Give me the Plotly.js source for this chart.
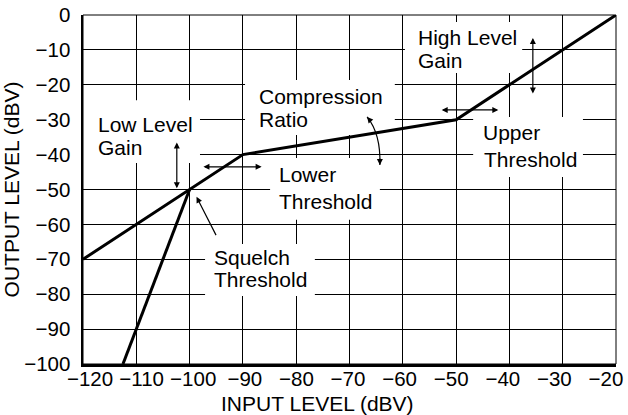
<!DOCTYPE html>
<html>
<head>
<meta charset="utf-8">
<script src="https://cdn.plot.ly/plotly-3.0.1.min.js"></script>
<style>html,body{margin:0;padding:0;background:#fff;}#chart{width:628px;height:415px;}</style>
</head>
<body>
<div id="chart"></div>
<script>
// ---- data ----
const inputKnee = [-120, -100, -90, -50, -20];
const outputKnee = [-70, -50, -40, -30, 0];
const inputSquelch = [-112.5, -100];
const outputSquelch = [-100, -50];
const xTickVals = [-120, -110, -100, -90, -80, -70, -60, -50, -40, -30, -20];
const yTickVals = [-100, -90, -80, -70, -60, -50, -40, -30, -20, -10, 0];
const labelLines = ['Low Level', 'Gain', 'Compression', 'Ratio', 'Lower', 'Threshold',
                    'Squelch', 'Threshold', 'High Level', 'Gain', 'Upper', 'Threshold'];
const xTitle = 'INPUT LEVEL (dBV)';
const yTitle = 'OUTPUT LEVEL (dBV)';

// ---- layout helpers ----
const FONT = 'Liberation Sans, Arial, Helvetica, sans-serif';
const labelPos = [
  [-117.4, -31.5], [-117.4, -38.1],
  [-87.2, -23.4], [-87.2, -29.8],
  [-83.4, -45.8], [-83.4, -53.4],
  [-95.6, -69.5], [-95.6, -75.9],
  [-57.3, -6.4], [-57.3, -12.9],
  [-45.1, -33.7], [-45.0, -41.5]
];
const boxes = [
  [-120, -98.05, -24.4, -42.4],
  [-89.6, -61.5, -18.6, -34.4],
  [-84.9, -64.3, -41.0, -58.7],
  [-97.1, -76.5, -65.6, -80.5],
  [-59.6, -37.6, -2.0, -16.6],
  [-46.8, -26.2, -29.2, -46.4]
];
// double arrows: [x, y, ax, ay]
const dblArrows = [
  [-102.4, -36.5, -102.4, -50.1],
  [-97.4, -43.5, -86.2, -43.5],
  [-52.7, -27.2, -41.8, -27.2],
  [-35.6, -6.6, -35.6, -22.9]
];

const shapes = boxes.map(b => ({
  type: 'rect', xref: 'x', yref: 'y', x0: b[0], x1: b[1], y0: b[2], y1: b[3],
  fillcolor: '#fff', line: {width: 0}, layer: 'between'
}));
shapes.push({
  type: 'path', xref: 'x', yref: 'y', layer: 'above',
  path: 'M -66.7 -29.2 Q -64.1 -34.1 -64.3 -43.0',
  line: {color: '#000', width: 1.2}
});
shapes.push({
  type: 'rect', xref: 'paper', yref: 'paper', x0: 0, x1: 1, y0: 0, y1: 1,
  line: {color: '#000', width: 1}, layer: 'above'
});

const annotations = labelLines.map((t, i) => ({
  text: t, x: labelPos[i][0], y: labelPos[i][1], xref: 'x', yref: 'y',
  xanchor: 'left', yanchor: 'middle', showarrow: false, borderpad: 0,
  font: {family: FONT, size: 21, color: '#000'}
}));
dblArrows.forEach(a => annotations.push({
  text: '', x: a[0], y: a[1], ax: a[2], ay: a[3], axref: 'x', ayref: 'y', xref: 'x', yref: 'y',
  showarrow: true, arrowside: 'end+start', arrowhead: 2, startarrowhead: 2,
  arrowsize: 1, startarrowsize: 1, arrowwidth: 1.2, arrowcolor: '#000', standoff: 0, startstandoff: 0
}));
// squelch pointer
annotations.push({
  text: '', x: -98.7, y: -52.1, ax: -94.9, ay: -63.5, axref: 'x', ayref: 'y', xref: 'x', yref: 'y',
  showarrow: true, arrowhead: 2, arrowsize: 1, arrowwidth: 1.2, arrowcolor: '#000', standoff: 0
});
// compression curved arrow heads
annotations.push({
  text: '', x: -66.7, y: -29.2, ax: 5, ay: 6, xref: 'x', yref: 'y',
  showarrow: true, arrowhead: 2, arrowsize: 1, arrowwidth: 1.2, arrowcolor: '#000', standoff: 0
});
annotations.push({
  text: '', x: -64.3, y: -43.0, ax: 0, ay: -8, xref: 'x', yref: 'y',
  showarrow: true, arrowhead: 2, arrowsize: 1, arrowwidth: 1.2, arrowcolor: '#000', standoff: 0
});
// x axis title (centred on the page as in the original)
annotations.push({
  text: xTitle, xref: 'paper', yref: 'paper', x: 0.44, y: -0.1146,
  xanchor: 'center', yanchor: 'middle', showarrow: false,
  font: {family: FONT, size: 21, color: '#000'}
});

const traces = [
  {x: inputKnee, y: outputKnee, type: 'scatter', mode: 'lines',
   line: {color: '#000', width: 3}, hoverinfo: 'skip'},
  {x: inputSquelch, y: outputSquelch, type: 'scatter', mode: 'lines',
   line: {color: '#000', width: 3}, hoverinfo: 'skip'},
  // carrier for the tick-label axis (draws nothing)
  {x: xTickVals, y: xTickVals.map(() => null), xaxis: 'x2', yaxis: 'y',
   type: 'scatter', mode: 'lines', hoverinfo: 'skip', showlegend: false}
];

const layout = {
  width: 628, height: 415,
  margin: {l: 83, r: 12, t: 15, b: 51, pad: 0},
  paper_bgcolor: '#fff', plot_bgcolor: '#fff',
  font: {family: FONT, size: 20, color: '#000'},
  showlegend: false,
  xaxis: {
    range: [-120, -20], tickvals: xTickVals, showticklabels: false,
    showgrid: true, gridcolor: '#000', gridwidth: 1,
    showline: true, linecolor: '#000', linewidth: 2.5,
    zeroline: false, ticks: '', fixedrange: true
  },
  xaxis2: {
    overlaying: 'x', anchor: 'y', side: 'bottom',
    range: [-121.36, -18.06], tickvals: xTickVals,
    showgrid: false, zeroline: false, showline: false, ticks: '',
    tickfont: {family: FONT, size: 20.5, color: '#000'}, fixedrange: true
  },
  yaxis: {
    range: [-100, 0], tickvals: yTickVals,
    showgrid: true, gridcolor: '#000', gridwidth: 1,
    showline: true, linecolor: '#000', linewidth: 2.5,
    zeroline: false, ticks: '', ticklabelstandoff: 6,
    tickfont: {family: FONT, size: 20.5, color: '#000'},
    title: {text: yTitle, font: {family: FONT, size: 21, color: '#000'}, standoff: 4},
    fixedrange: true
  },
  shapes: shapes,
  annotations: annotations
};

Plotly.newPlot('chart', traces, layout, {displayModeBar: false, staticPlot: true});
</script>
</body>
</html>
